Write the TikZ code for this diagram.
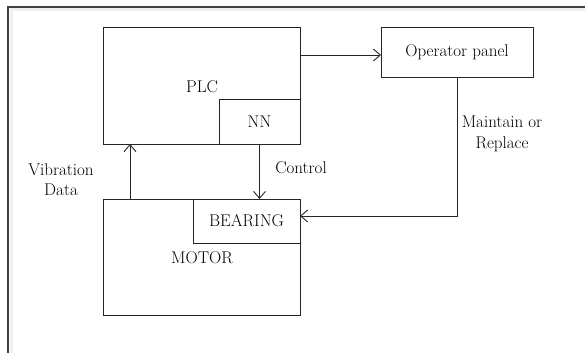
\documentclass[tikz,border=0pt]{standalone}
\usetikzlibrary{arrows.meta,calc}
\begin{document}
\begin{tikzpicture}[x=1pt,y=-1pt,
  box/.style={draw=black!85, line width=0.8pt, inner sep=0pt, outer sep=0pt},
  lbl/.style={inner sep=0pt, align=center},
  arr/.style={draw=black!85, line width=0.8pt, -{Straight Barb[length=7pt,width=12pt,line width=0.9pt]}},
  font=\rmfamily\fontsize{17}{20.5}\selectfont]
\useasboundingbox (0,0) rectangle (585,353);
% frame
\draw[line width=3pt, gray!12] (11,353) -- (11,10) -- (585,10);
\draw[line width=2pt, black!75] (8,353) -- (8,7) -- (585,7);
% boxes
\node[box, minimum width=197pt, minimum height=117pt] (plc) at (201.5,85.5) {};
\node[lbl] (plct) at (202,87) {PLC};
\node[box, minimum width=81pt, minimum height=45pt] (nn) at (259.5,121.5) {NN};
\node[box, minimum width=152pt, minimum height=50pt] (op) at (457,52) {Operator panel};
\node[box, minimum width=197pt, minimum height=116pt] (motor) at (201.5,257) {};
\node[lbl] (motort) at (202,258) {MOTOR};
\node[box, minimum width=107pt, minimum height=44pt] (bear) at (246.5,221) {BEARING};
% connectors
\draw[arr] ($(op.west -| plc.east)+(0,3)$) -- ($(op.west)+(0,3)$);
\draw[arr] (op.south) -- ($(op.south |- bear.east)+(0,-5)$) -- ($(bear.east)+(0,-5)$);
\draw[arr] (nn.south) -- (nn.south |- motor.north);
\draw[arr] ($(motor.north west)+(27,0)$) -- ($(plc.south west)+(27,0)$);
% labels
\node[lbl] (ctrl) at (301,168) {Control};
\node[lbl] (vib) at (61,179.5) {Vibration\\Data};
\node[lbl] (mr) at (502,134) {Maintain or\\Replace};
\end{tikzpicture}
\end{document}
